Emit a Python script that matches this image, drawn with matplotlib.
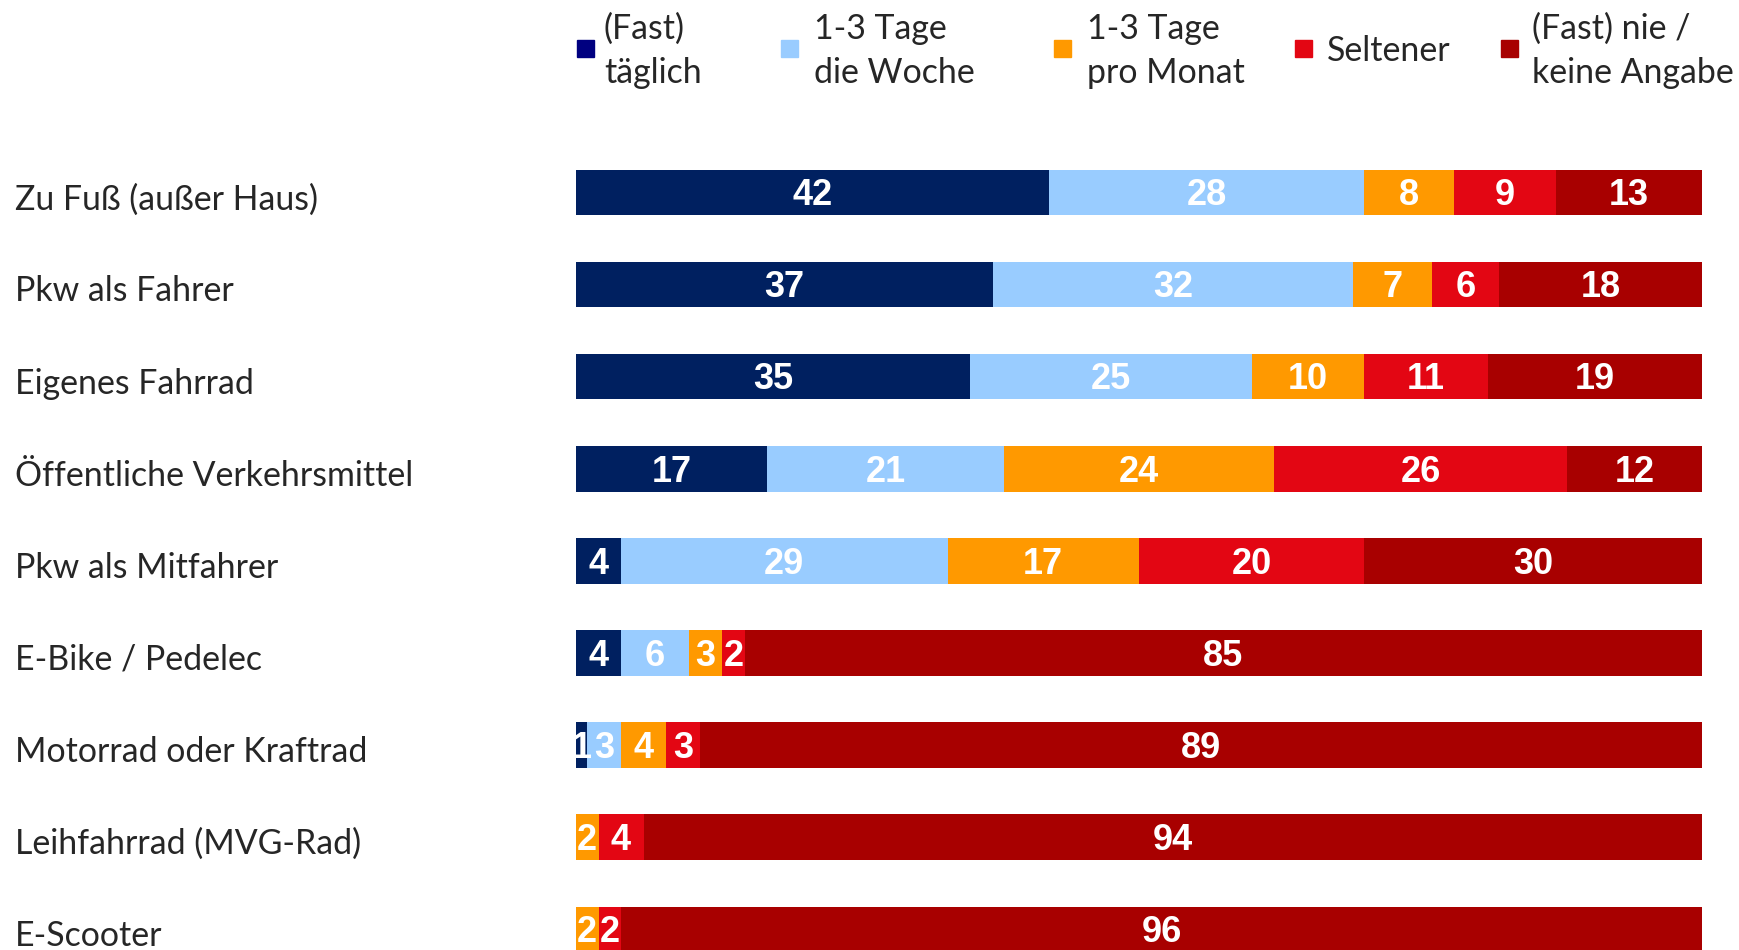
import matplotlib.pyplot as plt
from matplotlib.patches import Rectangle
from matplotlib.transforms import blended_transform_factory

# Werte in Prozent
categories = ['Zu Fuß (außer Haus)', 'Pkw als Fahrer', 'Eigenes Fahrrad',
              'Öffentliche Verkehrsmittel', 'Pkw als Mitfahrer', 'E-Bike / Pedelec',
              'Motorrad oder Kraftrad', 'Leihfahrrad (MVG-Rad)', 'E-Scooter']
taeglich = [42, 37, 35, 17, 4, 4, 1, 0, 0]
woche = [28, 32, 25, 21, 29, 6, 3, 0, 0]
monat = [8, 7, 10, 24, 17, 3, 4, 2, 2]
seltener = [9, 6, 11, 26, 20, 2, 3, 4, 2]
nie = [13, 18, 19, 12, 30, 85, 89, 94, 96]

series_labels = ['(Fast)\ntäglich', '1-3 Tage\ndie Woche', '1-3 Tage\npro Monat',
                 'Seltener', '(Fast) nie /\nkeine Angabe']
bar_colors = ['#002060', '#99CCFF', '#FF9900', '#E30613', '#A80000']
legend_colors = ['#000080', '#99CCFF', '#FF9900', '#E30613', '#A80000']

W, H = 1740, 950
fig = plt.figure(figsize=(W / 100, H / 100), dpi=100)
ax = fig.add_axes([576 / W, 0, 1126 / W, 1])
ax.set_xlim(0, 100)
ax.set_ylim(8.225, -2.09)
ax.axis('off')

label_font = 'Lato'
txt_col = '#262626'

series = [taeglich, woche, monat, seltener, nie]
left = [0] * len(categories)
for vals, col in zip(series, bar_colors):
    ax.barh(range(len(categories)), vals, left=left, height=0.494, color=col, linewidth=0)
    for i, v in enumerate(vals):
        if v > 0:
            ax.text(left[i] + v / 2, i + 0.035, str(v), ha='center', va='center', color='white',
                    fontsize=26, fontweight='bold', family='Liberation Sans')
    left = [l + v for l, v in zip(left, vals)]

# Kategorienamen links
tr = blended_transform_factory(fig.transFigure, ax.transData)
for i, name in enumerate(categories):
    ax.text(15 / W, i + 0.075, name, transform=tr, ha='left', va='center',
            fontsize=24.4, color=txt_col, family=label_font)

# Legende
sw_x = [577, 781, 1054, 1295, 1501]
tx_x = [604, 814, 1087, 1327, 1532]
for sx, tx, lab, col in zip(sw_x, tx_x, series_labels, legend_colors):
    fig.patches.append(Rectangle((sx / W, 1 - 57 / H), 17 / W, 17 / H, transform=fig.transFigure,
                                 color=col, figure=fig))
    fig.text(tx / W, 1 - 51 / H, lab, ha='left', va='center', fontsize=24.4, color=txt_col,
             family=label_font, linespacing=1.45)

fig.savefig('out.png', dpi=100)
